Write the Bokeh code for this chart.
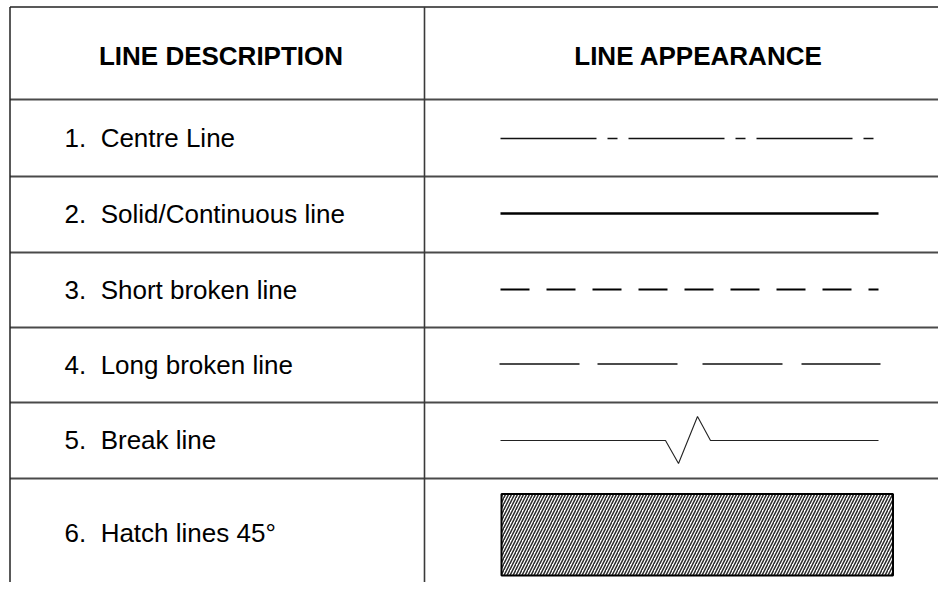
from bokeh.plotting import figure
from bokeh.models import Range1d
from bokeh.core.properties import value
from bokeh.embed import file_html
from bokeh.resources import INLINE

# ---- table content ----
headers = ["LINE DESCRIPTION", "LINE APPEARANCE"]
descriptions = [
    "1.\u00a0 Centre Line",
    "2.\u00a0 Solid/Continuous line",
    "3.\u00a0 Short broken line",
    "4.\u00a0 Long broken line",
    "5.\u00a0 Break line",
    "6.\u00a0 Hatch lines 45\u00b0",
]

# ---- layout (pixel coordinates of the picture) ----
row_lines = [99, 176, 252, 327, 402, 478]
text_baselines = [137, 213.5, 289, 364.5, 439.5, 532.5]
header_centers = [220.5, 698]
header_baseline = 55
left_x, mid_x, right_x = 9.5, 424, 946
top_y, bottom_y = 6.5, 600

W, H = 938, 582
p = figure(width=W, height=H, x_range=Range1d(0, W), y_range=Range1d(H, 0),
           output_backend="svg", toolbar_location=None, min_border=0,
           x_axis_type=None, y_axis_type=None)
p.grid.visible = False
p.outline_line_color = None
p.background_fill_color = "white"
p.border_fill_color = "white"

# ---- grid lines ----
p.segment(x0=[left_x] * len(row_lines), x1=[right_x] * len(row_lines),
          y0=row_lines, y1=row_lines, line_color="#4a4a4a", line_width=1.8)
p.segment(x0=[left_x, left_x], x1=[right_x, left_x], y0=[top_y, top_y], y1=[top_y, bottom_y],
          line_color="#222222", line_width=1.5)
p.segment(x0=[mid_x], x1=[mid_x], y0=[top_y], y1=[bottom_y], line_color="#3a3a3a", line_width=1.6)

# ---- header text ----
p.text(x=header_centers, y=[header_baseline] * 2, text=headers,
       text_font=value("Liberation Sans"), text_font_size="26px", text_font_style="bold",
       text_align="center", text_baseline="alphabetic", text_color="black")

# ---- descriptions ----
p.text(x=[64] * len(descriptions), y=text_baselines, text=descriptions,
       text_font=value("Liberation Sans"), text_font_size="26px",
       text_align="left", text_baseline="alphabetic", text_color="black")

# ---- line appearances ----
# 1. centre line
p.line(x=[500, 873], y=[138, 138], line_color="#111111", line_width=1.3, line_dash="96 11 10 11")
# 2. solid
p.line(x=[500, 878], y=[213, 213], line_color="black", line_width=2.6)
# 3. short broken
p.line(x=[500, 878], y=[289, 289], line_color="black", line_width=2.2, line_dash="29 17")
# 4. long broken
p.line(x=[499, 880], y=[363.5, 363.5], line_color="#111111", line_width=1.5,
       line_dash="80 18 80 25 80 19")
# 5. break line
break_x = [500, 665, 678, 697, 710, 878]
break_dy = [0, 0, 23, -24, 0, 0]
p.line(x=break_x, y=[440 + d for d in break_dy], line_color="#222222", line_width=1.1)
# 6. hatch box
p.quad(left=[501], right=[892.5], top=[493.5], bottom=[575], fill_color="white",
       line_color="black", line_width=2, hatch_pattern="/", hatch_scale=6,
       hatch_weight=1.5, hatch_color="#2a2a2a")

open("out.html", "w").write(file_html(p, INLINE))
